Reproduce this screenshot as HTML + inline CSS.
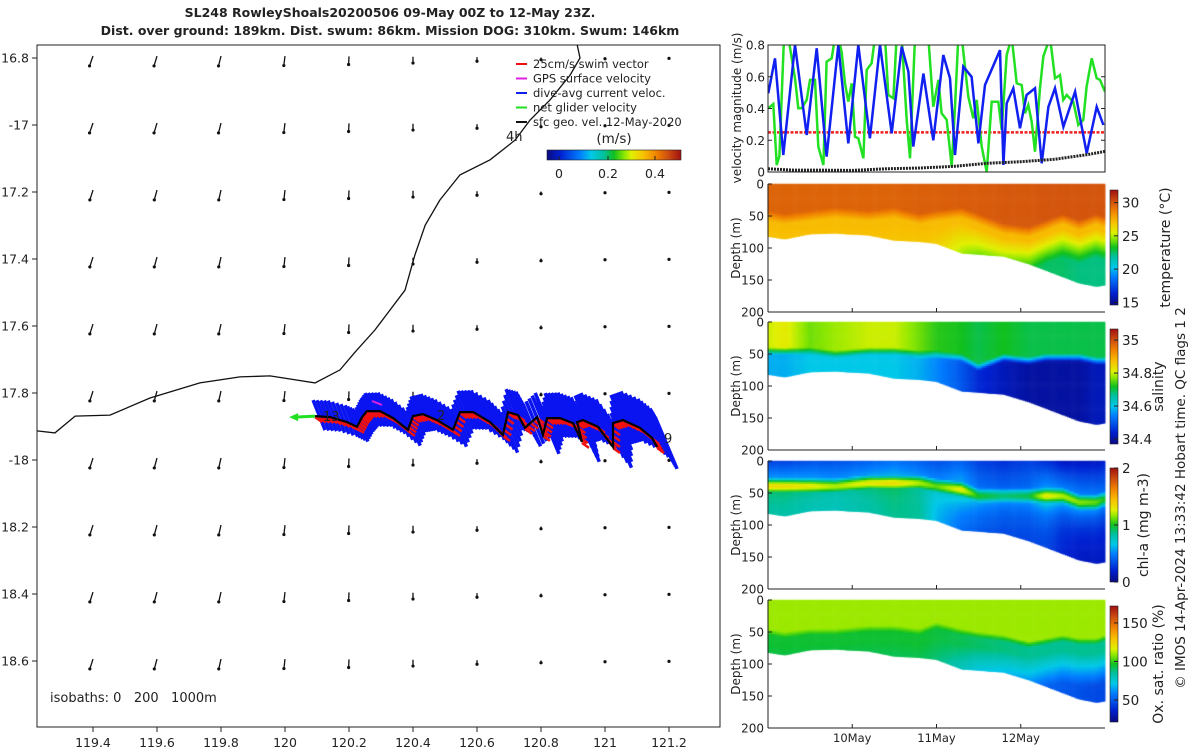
<!DOCTYPE html>
<html><head><meta charset="utf-8">
<style>
html,body{margin:0;padding:0;background:#fff;}
#wrap{position:relative;width:1200px;height:750px;overflow:hidden;font-family:"DejaVu Sans","Liberation Sans",sans-serif;}
canvas,svg{position:absolute;left:0;top:0;}
text{font-family:"DejaVu Sans","Liberation Sans",sans-serif;fill:#222;}
</style></head>
<body>
<div id="wrap">
<canvas id="cv" width="1200" height="750"></canvas>
<svg id="sv" width="1200" height="750" xmlns="http://www.w3.org/2000/svg">
<defs>
<clipPath id="mapclip"><rect x="37" y="45" width="683" height="682"/></clipPath>
<clipPath id="velclip"><rect x="768" y="45" width="337" height="127"/></clipPath>
<linearGradient id="cbh" x1="0" x2="1" y1="0" y2="0"></linearGradient>
<linearGradient id="cbv" x1="0" x2="0" y1="1" y2="0"></linearGradient>
</defs>
<g>
<text x="390" y="17" font-size="12.5" font-weight="bold" text-anchor="middle">SL248 RowleyShoals20200506 09-May 00Z to 12-May 23Z.</text>
<text x="390" y="35" font-size="12.5" font-weight="bold" text-anchor="middle">Dist. over ground: 189km. Dist. swum: 86km. Mission DOG: 310km. Swum: 146km</text>
</g>
<g id="map"></g>
<g id="vel"></g>
<g id="sec"></g>
<text transform="translate(1185,498) rotate(-90)" font-size="13.5" text-anchor="middle">© IMOS 14-Apr-2024 13:33:42 Hobart time. QC flags 1  2</text>
</svg>
</div>
<script>
// ---------- MAP DATA ----------
const coastLon=[119.225,119.281,119.344,119.453,119.578,119.734,119.859,119.953,120.094,120.172,120.219,120.281,120.375,120.406,120.438,120.484,120.547,120.641,120.719,120.766,120.828,120.891,120.922,120.913];
const coastLat=[-17.913,-17.919,-17.869,-17.866,-17.815,-17.770,-17.752,-17.749,-17.770,-17.731,-17.678,-17.612,-17.493,-17.388,-17.299,-17.224,-17.149,-17.104,-17.045,-16.985,-16.925,-16.851,-16.800,-16.761];
const gridLon=[119.4,119.6,119.8,120,120.2,120.4,120.6,120.8,121,121.2];
const gridLat=[-16.8,-17,-17.2,-17.4,-17.6,-17.8,-18,-18.2,-18.4,-18.6];
const geoU=[-0.035,-0.03,-0.025,-0.012,-0.004,0,0,0,0,0];
const geoV=[-0.11,-0.11,-0.11,-0.105,-0.09,-0.07,-0.045,-0.025,-0.01,-0.005];
const trackLon=[120.094,120.141,120.194,120.225,120.241,120.256,120.297,120.338,120.384,120.400,120.431,120.475,120.525,120.547,120.588,120.641,120.681,120.697,120.728,120.750,120.788,120.806,120.819,120.859,120.900,120.928,120.913,120.931,120.978,121.025,121.025,121.056,121.109,121.147,121.163];
const trackLat=[-17.869,-17.872,-17.887,-17.901,-17.872,-17.854,-17.854,-17.875,-17.910,-17.869,-17.863,-17.881,-17.910,-17.857,-17.857,-17.887,-17.925,-17.857,-17.866,-17.904,-17.872,-17.925,-17.875,-17.875,-17.890,-17.946,-17.887,-17.881,-17.901,-17.961,-17.890,-17.881,-17.904,-17.934,-17.961];
const xTicks=[119.4,119.6,119.8,120,120.2,120.4,120.6,120.8,121,121.2];
const xTickLabels=["119.4","119.6","119.8","120","120.2","120.4","120.6","120.8","121","121.2"];
const yTicks=[-16.8,-17,-17.2,-17.4,-17.6,-17.8,-18,-18.2,-18.4,-18.6];
const yTickLabels=["16.8","-17","17.2","17.4","17.6","17.8","-18","18.2","18.4","18.6"];
// ---------- VELOCITY DATA ----------
const blueT=[9.004,9.083,9.182,9.32,9.459,9.578,9.696,9.835,9.953,10.072,10.21,10.329,10.468,10.587,10.666,10.725,10.844,10.962,11.081,11.16,11.219,11.318,11.417,11.497,11.576,11.754,11.794,11.833,11.912,11.991,12.07,12.169,12.249,12.328,12.407,12.506,12.645,12.783,12.902,12.981];
const blueV=[0.496,0.716,0.107,0.80,0.233,0.779,0.097,0.80,0.18,0.80,0.212,0.80,0.244,0.79,0.632,0.16,0.62,0.20,0.737,0.59,0.107,0.663,0.60,0.18,0.548,0.768,0.044,0.433,0.527,0.275,0.485,0.527,0.055,0.411,0.527,0.285,0.506,0.118,0.411,0.296];
const greenT=[9.004,9.063,9.103,9.135,9.19,9.241,9.32,9.36,9.4,9.459,9.499,9.558,9.597,9.657,9.696,9.756,9.795,9.835,9.874,9.914,9.953,9.993,10.033,10.072,10.132,10.171,10.23,10.27,10.329,10.389,10.428,10.488,10.527,10.587,10.646,10.685,10.745,10.804,10.863,10.903,10.962,11.022,11.061,11.121,11.18,11.22,11.259,11.299,11.378,11.437,11.477,11.536,11.596,11.655,11.734,11.774,11.833,11.892,11.952,12.011,12.05,12.09,12.13,12.169,12.228,12.268,12.347,12.407,12.466,12.505,12.545,12.624,12.683,12.743,12.782,12.842,12.901,12.941,13.0];
const greenV=[0.401,0.428,0.044,0.101,0.85,0.85,0.59,0.401,0.401,0.454,0.58,0.58,0.16,0.044,0.695,0.716,0.85,0.85,0.758,0.559,0.443,0.559,0.222,0.212,0.086,0.643,0.685,0.85,0.85,0.85,0.485,0.464,0.85,0.85,0.328,0.086,0.85,0.85,0.85,0.85,0.411,0.58,0.37,0.328,0.034,0.411,0.85,0.85,0.475,0.338,0.454,0.16,0.0,0.443,0.443,0.265,0.737,0.85,0.559,0.548,0.37,0.422,0.317,0.128,0.527,0.726,0.85,0.59,0.611,0.454,0.485,0.443,0.296,0.328,0.537,0.716,0.59,0.58,0.506];
const geoT=[9,9.3,9.6,10,10.4,10.8,11.2,11.6,12,12.4,12.8,13];
const geoMag=[0.02,0.012,0.012,0.01,0.02,0.025,0.035,0.055,0.065,0.08,0.11,0.13];
const swimSpeed=0.25;
const velTicks=[0,0.2,0.4,0.6,0.8];
// ---------- SECTION DATA ----------
const knotT=[9,9.2,9.5,9.8,10.2,10.5,10.8,11.0,11.3,11.5,11.8,12.1,12.3,12.5,12.7,12.9,13];
const bottomD=[82,86,78,77,80,88,90,93,108,110,113,125,135,145,155,160,158];
const mld=[50,55,50,45,50,45,55,50,45,55,70,75,65,55,65,55,60];
const tempSurf=[29.6,29.6,29.6,29.6,29.6,29.6,29.7,29.7,29.8,29.8,29.9,29.9,30,30,30,30,30];
const tempDeep=[26.6,26.6,26.8,26.8,26.8,26.7,26.5,26.3,25,24,23.5,23,22.5,22.5,22.2,22.2,22.2];
const salTop=[34.8,34.82,34.76,34.78,34.8,34.8,34.76,34.73,34.72,34.7,34.72,34.7,34.7,34.7,34.7,34.7,34.7];
const salDeep=[34.58,34.58,34.6,34.6,34.6,34.6,34.58,34.55,34.5,34.45,34.42,34.4,34.4,34.4,34.4,34.42,34.42];
const salMld=[45,45,45,50,45,45,50,50,55,70,55,60,55,55,55,60,60];
const chlDepth=[40,40,40,40,35,35,35,40,45,55,55,55,55,55,65,65,60];
const chlPeak=[1.35,1.35,1.3,1.2,1.3,1.35,1.2,1.1,1.3,1.0,0.9,0.95,1.3,1.2,1.15,1.1,1.0];
const chlSurf=[0.3,0.3,0.35,0.35,0.4,0.45,0.4,0.35,0.4,0.3,0.25,0.3,0.25,0.15,0.15,0.15,0.2];
const chlDeep=[0.8,0.8,0.75,0.75,0.8,0.85,0.85,0.6,0.4,0.35,0.3,0.3,0.3,0.2,0.15,0.15,0.15];
const oxSurf=[110,110,110,110,110,110,110,110,110,110,110,110,110,110,110,110,110];
const oxMid=[95,95,95,95,95,95,95,94,92,90,88,86,86,86,86,86,86];
const oxDeep=[88,88,88,88,88,88,88,86,75,65,60,55,52,50,48,46,46];
const oxMld=[45,50,45,45,40,40,45,35,45,50,55,65,60,55,60,60,55];
const depthTicks=[0,50,100,150,200];
const dayTicks=[10,11,12];
const dayLabels=["10May","11May","12May"];

// ---------- helpers ----------
const NS="http://www.w3.org/2000/svg";
function mk(tag,attrs,parent){const e=document.createElementNS(NS,tag);for(const k in attrs)e.setAttribute(k,attrs[k]);parent.appendChild(e);return e;}
const X=lon=>285+(lon-120)*320;
const Y=lat=>393+(-lat-17.8)*335;
const VX=t=>768+(t-9)*84.25;
const VY=v=>172-v*158.75;
const stops=[[0,[10,10,128]],[0.1,[0,32,208]],[0.25,[0,128,255]],[0.33,[0,200,232]],[0.42,[0,192,160]],[0.5,[16,192,32]],[0.58,[144,232,0]],[0.63,[224,240,0]],[0.72,[248,192,0]],[0.82,[240,128,0]],[0.9,[208,80,16]],[1,[160,16,16]]];
function cmap(f){f=Math.max(0,Math.min(1,f));for(let i=1;i<stops.length;i++){if(f<=stops[i][0]){const a=stops[i-1],b=stops[i];const r=(f-a[0])/(b[0]-a[0]);return a[1].map((c,j)=>Math.round(c+(b[1][j]-c)*r));}}return stops[stops.length-1][1];}
function rgb(c){return `rgb(${c[0]},${c[1]},${c[2]})`;}
function at(arr,t){for(let i=1;i<knotT.length;i++){if(t<=knotT[i]){const r=(t-knotT[i-1])/(knotT[i]-knotT[i-1]);return arr[i-1]+(arr[i]-arr[i-1])*r;}}return arr[arr.length-1];}
const clamp=v=>Math.max(0,Math.min(1,v));
["cbh","cbv"].forEach(id=>{const g=document.getElementById(id);stops.forEach(s=>{mk("stop",{offset:s[0],"stop-color":rgb(s[1])},g);});});

// ---------- MAP ----------
const map=document.getElementById("map");
mk("rect",{x:37,y:45,width:683,height:682,fill:"none",stroke:"#222","stroke-width":1},map);
const mapg=mk("g",{"clip-path":"url(#mapclip)"},map);
let cp=coastLon.map((l,i)=>X(l).toFixed(1)+","+Y(coastLat[i]).toFixed(1)).join(" ");
const coast=mk("polyline",{points:cp,fill:"none",stroke:"#111","stroke-width":1.3},mapg);


gridLat.forEach((la,j)=>{gridLon.forEach((lo,i)=>{
  const x0=X(lo),y0=Y(la);const s=90;const dx=geoU[i]*s*(1+0.1*(j<2)), dy=-geoV[i]*s;
  const ln=mk("line",{x1:x0,y1:y0-dy*0.2,x2:x0+dx,y2:y0+dy*0.8,stroke:"#111","stroke-width":1.3},mapg);
  
  
  mk("circle",{cx:x0+dx,cy:y0+dy*0.8,r:1.6,fill:"#111"},mapg);
});});
const pts=[];
for(let i=0;i<trackLon.length-1;i++){for(let k=0;k<4;k++){const r=k/4;pts.push([X(trackLon[i]+(trackLon[i+1]-trackLon[i])*r),Y(trackLat[i]+(trackLat[i+1]-trackLat[i])*r)]);}}
pts.push([X(trackLon[trackLon.length-1]),Y(trackLat[trackLat.length-1])]);
const swath=mk("g",{},mapg);
pts.forEach((p,n)=>{const f=n/pts.length;const up=16+14*f;const dn=14+8*f;
  mk("line",{x1:p[0]-2,y1:p[1]-up,x2:p[0]+10+10*f,y2:p[1]+dn,stroke:"#0a14f0","stroke-width":3.5},swath);});
const swim=mk("g",{},mapg);
pts.forEach(p=>{mk("line",{x1:p[0],y1:p[1]+1,x2:p[0]+7,y2:p[1]+6,stroke:"#f01010","stroke-width":2.5},swim);});
const tr=mk("polyline",{points:trackLon.map((l,i)=>X(l).toFixed(1)+","+Y(trackLat[i]).toFixed(1)).join(" "),fill:"none",stroke:"#000","stroke-width":2.2},mapg);

mk("line",{x1:X(trackLon[0]),y1:Y(trackLat[0]),x2:X(trackLon[0])-20,y2:Y(trackLat[0])+1,stroke:"#20e020","stroke-width":3},mapg);
mk("polygon",{points:`${X(trackLon[0])-26},${Y(trackLat[0])+1} ${X(trackLon[0])-17},${Y(trackLat[0])-3} ${X(trackLon[0])-17},${Y(trackLat[0])+5}`,fill:"#20e020"},mapg);
mk("line",{x1:372,y1:401,x2:382,y2:405,stroke:"#e020e0","stroke-width":2},mapg);
[["13",323,421],["2",437,420],["9",664,443],["4h",506,141]].forEach(a=>{const t=mk("text",{x:a[1],y:a[2],"font-size":13},mapg);t.textContent=a[0];});
const iso=mk("text",{x:50,y:702,"font-size":13,"xml:space":"preserve"},map);iso.textContent="isobaths: 0   200   1000m";
iso.style.whiteSpace="pre";
xTicks.forEach((v,i)=>{const x=X(v);mk("line",{x1:x,y1:727,x2:x,y2:732,stroke:"#222"},map);const t=mk("text",{x:x,y:747,"font-size":12.5,"text-anchor":"middle"},map);t.textContent=xTickLabels[i];});
yTicks.forEach((v,i)=>{const y=Y(v);mk("line",{x1:32,y1:y,x2:37,y2:y,stroke:"#222"},map);const t=mk("text",{x:29,y:y+4.5,"font-size":12.5,"text-anchor":"end"},map);t.textContent=yTickLabels[i];});
const leg=mk("g",{},map);
[["25cm/s swim vector","#f01010"],["GPS surface velocity","#e020e0"],["dive-avg current veloc.","#1020f0"],["net glider velocity","#20e020"],["sfc geo. vel. 12-May-2020","#111"]].forEach((e,i)=>{const y=64+i*14.5;
 mk("line",{x1:516,y1:y,x2:527,y2:y,stroke:e[1],"stroke-width":2},leg);const t=mk("text",{x:533,y:y+4,"font-size":11.5},leg);t.textContent=e[0];});
const mt=mk("text",{x:614,y:143,"font-size":13.5,"text-anchor":"middle"},leg);mt.textContent="(m/s)";
mk("rect",{x:547,y:150,width:134,height:10,fill:"url(#cbh)",stroke:"#222","stroke-width":0.6},leg);
[["0",559],["0.2",608],["0.4",655]].forEach(a=>{mk("line",{x1:a[1],y1:156,x2:a[1],y2:160,stroke:"#222"},leg);const t=mk("text",{x:a[1],y:178,"font-size":12.5,"text-anchor":"middle"},leg);t.textContent=a[0];});

// ---------- VELOCITY PANEL ----------
const vel=document.getElementById("vel");
const vg=mk("g",{"clip-path":"url(#velclip)"},vel);
mk("line",{x1:768,y1:VY(swimSpeed),x2:1105,y2:VY(swimSpeed),stroke:"#f02020","stroke-width":2.5,"stroke-dasharray":"3,1.5"},vg);
const gl=mk("polyline",{points:greenT.map((t,i)=>VX(t).toFixed(1)+","+VY(greenV[i]).toFixed(1)).join(" "),fill:"none",stroke:"#22e022","stroke-width":2.5},vg);

const bl=mk("polyline",{points:blueT.map((t,i)=>VX(t).toFixed(1)+","+VY(blueV[i]).toFixed(1)).join(" "),fill:"none",stroke:"#1020f0","stroke-width":2.5},vg);

const kl=mk("polyline",{points:geoT.map((t,i)=>VX(t).toFixed(1)+","+VY(geoMag[i]).toFixed(1)).join(" "),fill:"none",stroke:"#222","stroke-width":3,"stroke-dasharray":"2,1"},vg);

mk("rect",{x:768,y:45,width:337,height:127,fill:"none",stroke:"#222"},vel);
velTicks.forEach(v=>{const y=VY(v);mk("line",{x1:768,y1:y,x2:772,y2:y,stroke:"#222"},vel);mk("line",{x1:1101,y1:y,x2:1105,y2:y,stroke:"#222"},vel);const t=mk("text",{x:765,y:y+4.5,"font-size":12,"text-anchor":"end"},vel);t.textContent=v===0?"0":v.toFixed(1);});
const vyl=mk("text",{transform:"translate(741,108) rotate(-90)","font-size":12,"text-anchor":"middle"},vel);vyl.textContent="velocity magnitude (m/s)";

// ---------- SECTIONS ----------
const ctx=document.getElementById("cv").getContext("2d");
const panels=[
 {top:184,name:"temperature",lo:14.6,hi:31.9,cb:[190,305],ticks:[15,20,25,30],lab:"temperature (°C)",labx:1170,
  f:(t,z)=>{const m=at(mld,t),s=at(tempSurf,t),d=at(tempDeep,t);return s-(s-27.2)*clamp((z-m+8)/16)-Math.max(0,27.2-d)*clamp((z-m-15)/45);}},
 {top:322,name:"salinity",lo:34.37,hi:35.067,cb:[329,444],ticks:[34.4,34.6,34.8,35],lab:"salinity",labx:1163,
  f:(t,z)=>{const m=at(salMld,t);return at(salTop,t)-(at(salTop,t)-at(salDeep,t))*clamp((z-m+5)/12);}},
 {top:461,name:"chl-a",lo:0,hi:2,cb:[468,582],ticks:[0,1,2],lab:"chl-a (mg m-3)",labx:1148,
  f:(t,z)=>{const d=at(chlDepth,t),g=Math.exp(-Math.pow((z-d)/14,2));const base=z<d?at(chlSurf,t)+(at(chlPeak,t)*0.5-at(chlSurf,t))*clamp(z/d):at(chlDeep,t)+(at(chlPeak,t)*0.7-at(chlDeep,t))*Math.exp(-(z-d)/25);return Math.max(base,at(chlPeak,t)*g);}},
 {top:600,name:"oxygen",lo:21.4,hi:172,cb:[606,722],ticks:[50,100,150],lab:"Ox. sat. ratio (%)",labx:1163,
  f:(t,z)=>{const m=at(oxMld,t);if(z<m)return at(oxSurf,t);const r=clamp((z-m)/10);const mid=at(oxSurf,t)+(at(oxMid,t)-at(oxSurf,t))*r;return mid+(at(oxDeep,t)-at(oxMid,t))*clamp((z-m-25)/50);}}
];
const sec=document.getElementById("sec");
const DZ=z=>z*0.64;
panels.forEach(p=>{
  const dt=0.025,dzs=3;
  for(let t=9;t<13;t+=dt){const b=at(bottomD,t+dt/2);
    for(let z=0;z<b;z+=dzs){const v=p.f(t+dt/2,z+dzs/2);ctx.fillStyle=rgb(cmap((v-p.lo)/(p.hi-p.lo)));
      const h=Math.min(dzs,b-z);ctx.fillRect(VX(t)-0.2,p.top+DZ(z)-0.2,dt*84.25+0.6,DZ(h)+0.6);}}
  const g=mk("g",{},sec);
  mk("line",{x1:768,y1:p.top,x2:768,y2:p.top+128,stroke:"#222"},g);
  mk("line",{x1:768,y1:p.top+128,x2:1105,y2:p.top+128,stroke:"#222"},g);
  depthTicks.forEach(d=>{const y=p.top+DZ(d);mk("line",{x1:768,y1:y,x2:772,y2:y,stroke:"#222"},g);const t=mk("text",{x:764,y:y+4.5,"font-size":12,"text-anchor":"end"},g);t.textContent=d;});
  dayTicks.forEach(d=>mk("line",{x1:VX(d),y1:p.top+128,x2:VX(d),y2:p.top+124,stroke:"#222"},g));
  const yl=mk("text",{transform:`translate(740,${p.top+64}) rotate(-90)`,"font-size":12,"text-anchor":"middle"},g);yl.textContent="Depth (m)";
  const cb=mk("rect",{x:1110,y:p.cb[0],width:8,height:p.cb[1]-p.cb[0],fill:"url(#cbv)",stroke:"#222","stroke-width":0.6},g);
  
  p.ticks.forEach(v=>{const y=p.cb[1]-(v-p.lo)/(p.hi-p.lo)*(p.cb[1]-p.cb[0]);mk("line",{x1:1114,y1:y,x2:1118,y2:y,stroke:"#222"},g);const t=mk("text",{x:1122,y:y+5,"font-size":13.5},g);t.textContent=v;});
  const cl=mk("text",{transform:`translate(${p.labx},${(p.cb[0]+p.cb[1])/2}) rotate(-90)`,"font-size":14,"text-anchor":"middle"},g);cl.textContent=p.lab;
});
dayTicks.forEach((d,i)=>{const t=mk("text",{x:VX(d),y:742,"font-size":11.5,"text-anchor":"middle"},sec);t.textContent=dayLabels[i];});
</script>
</body></html>
